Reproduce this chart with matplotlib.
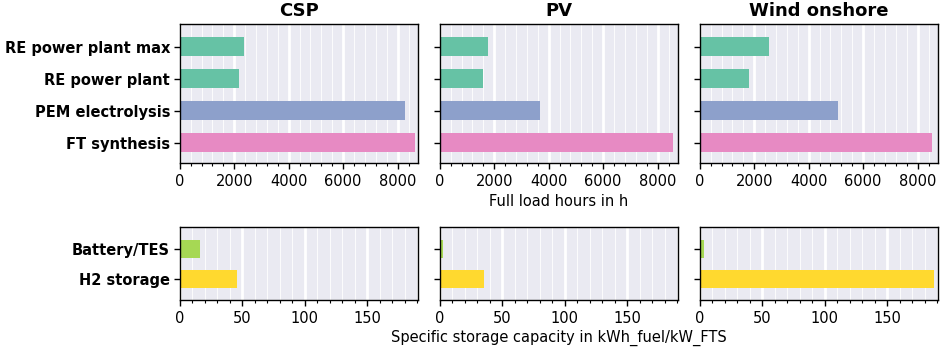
import matplotlib
matplotlib.use("Agg")
import matplotlib.pyplot as plt
import seaborn as sns
from matplotlib.ticker import MultipleLocator

sns.set_style("darkgrid")
plt.rcParams['font.family'] = ['DejaVu Sans']
plt.rcParams['text.color'] = 'black'
plt.rcParams['axes.labelcolor'] = 'black'
plt.rcParams['xtick.color'] = 'black'
plt.rcParams['ytick.color'] = 'black'

# data
plants = ["CSP", "PV", "Wind onshore"]
flh_labels = ["RE power plant max", "RE power plant", "PEM electrolysis", "FT synthesis"]
flh = {
    "CSP": [2370, 2175, 8270, 8635],
    "PV": [1785, 1590, 3690, 8550],
    "Wind onshore": [2545, 1800, 5065, 8515],
}
sto_labels = ["Battery/TES", "H2 storage"]
sto = {
    "CSP": [16, 45.6],
    "PV": [3, 35.2],
    "Wind onshore": [3.4, 187],
}

set2 = sns.color_palette("Set2")
flh_colors = [set2[0], set2[0], set2[2], set2[3]]
sto_colors = [set2[4], set2[5]]

fig = plt.figure(figsize=(9.41, 3.49), dpi=100)
lefts = [0.191, 0.4673, 0.7436]
w = 0.2536
sto_max = max(max(v) for v in sto.values()) * 1.02

for i, p in enumerate(plants):
    # oben: Volllaststunden
    ax = fig.add_axes([lefts[i], 0.532, w, 0.398])
    ax.barh(range(len(flh_labels)), flh[p], height=0.6, color=flh_colors, linewidth=0)
    ax.set_ylim(3.65, -0.69)
    ax.set_xlim(0, 8760)
    ax.set_yticks(range(len(flh_labels)))
    ax.xaxis.set_major_locator(MultipleLocator(2000))
    ax.xaxis.set_minor_locator(MultipleLocator(400))
    ax.set_title(p, fontsize=13, fontweight="bold", pad=6)
    if i == 0:
        ax.set_yticklabels(flh_labels, fontsize=10.5, fontweight="bold")
    else:
        ax.set_yticklabels([])
    if i == 1:
        ax.set_xlabel("Full load hours in h", fontsize=10.5, labelpad=3)

    # unten: Speicher
    ax2 = fig.add_axes([lefts[i], 0.1404, w, 0.21])
    ax2.barh(range(len(sto_labels)), sto[p], height=0.6, color=sto_colors, linewidth=0)
    ax2.set_ylim(1.69, -0.75)
    ax2.set_xlim(0, sto_max)
    ax2.set_yticks(range(len(sto_labels)))
    ax2.xaxis.set_major_locator(MultipleLocator(50))
    ax2.xaxis.set_minor_locator(MultipleLocator(10))
    if i == 0:
        ax2.set_yticklabels(sto_labels, fontsize=10.5, fontweight="bold")
    else:
        ax2.set_yticklabels([])
    if i == 1:
        ax2.set_xlabel("Specific storage capacity in kWh_fuel/kW_FTS", fontsize=10.5, labelpad=3)

    for a in (ax, ax2):
        a.grid(True, which="major", axis="x", color="white", linewidth=2)
        a.grid(True, which="minor", axis="x", color="white", linewidth=0.6)
        a.grid(False, axis="y")
        for s in a.spines.values():
            s.set_visible(True)
            s.set_color("black")
            s.set_linewidth(1)
        a.tick_params(axis="x", which="major", bottom=True, length=4, width=1, labelsize=10.5, pad=4)
        a.tick_params(axis="x", which="minor", bottom=True, length=2.5, width=0.8)
        a.tick_params(axis="y", left=True, length=4, width=1, pad=3)

fig.savefig("out.png", dpi=100)
